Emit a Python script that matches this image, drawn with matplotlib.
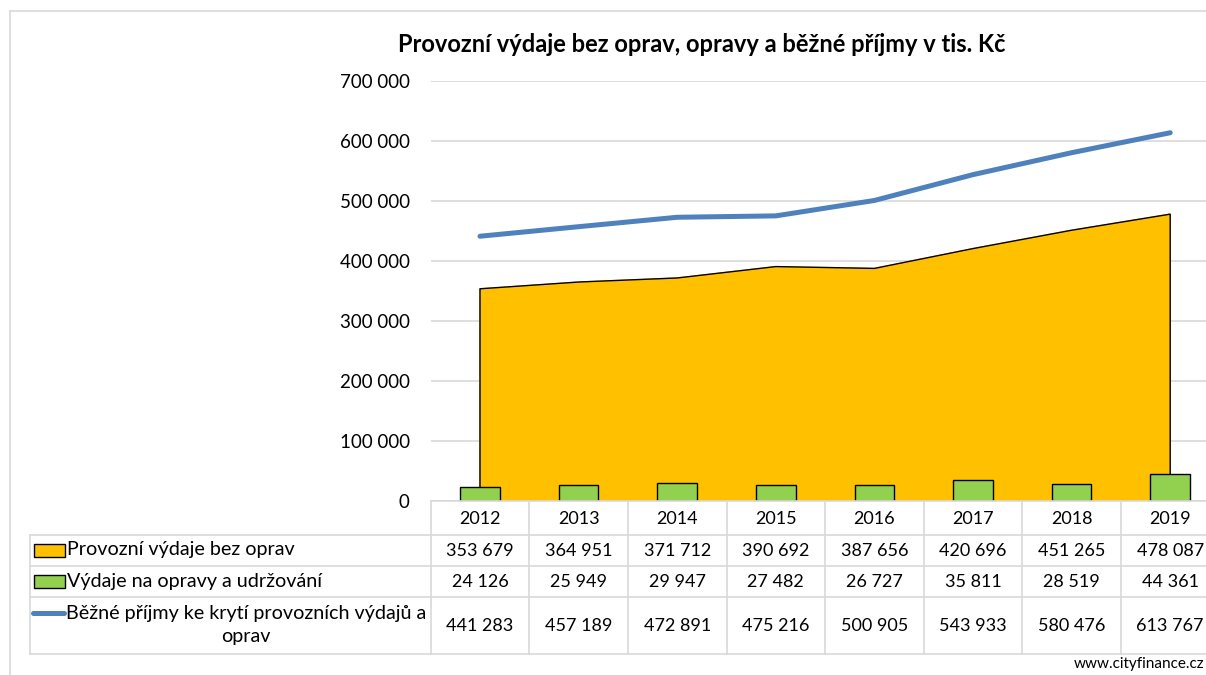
import matplotlib
matplotlib.use("Agg")
import matplotlib.pyplot as plt
from matplotlib.lines import Line2D
from matplotlib.patches import Rectangle

plt.rcParams['font.family'] = ['Lato', 'DejaVu Sans']

years = ['2012', '2013', '2014', '2015', '2016', '2017', '2018', '2019']
provozni = [353679, 364951, 371712, 390692, 387656, 420696, 451265, 478087]
opravy = [24126, 25949, 29947, 27482, 26727, 35811, 28519, 44361]
prijmy = [441283, 457189, 472891, 475216, 500905, 543933, 580476, 613767]
series_names = ['Provozní výdaje bez oprav',
                'Výdaje na opravy a udržování',
                'Běžné příjmy ke krytí provozních výdajů a\noprav']

ORANGE = '#ffc000'
GREEN = '#92d050'
BLUE = '#4f81bd'
GRID = '#d9d9d9'

W, H = 1206, 675
fig = plt.figure(figsize=(W / 100, H / 100), dpi=100)


def fx(px):
    return px / W


def fy(py):
    return 1 - py / H


# plot area in pixels
x0, x1 = 430.7, 1219.5
ytop, ybot = 81, 501
ax = fig.add_axes([fx(x0), fy(ybot), fx(x1 - x0), (ybot - ytop) / H])
n = len(years)
xs = list(range(n))
ax.set_xlim(-0.5, n - 0.5)
ax.set_ylim(0, 700000)
ax.set_yticks(range(0, 700001, 100000))
ax.set_yticklabels([f'{v:,}'.replace(',', ' ') for v in range(0, 700001, 100000)], fontsize=13.5)
ax.tick_params(axis='y', length=0, pad=15)
ax.set_xticks([])
for s in ax.spines.values():
    s.set_visible(False)
ax.grid(axis='y', color=GRID, linewidth=1.2)
ax.set_axisbelow(True)

# area
ax.fill([xs[0]] + xs + [xs[-1]], [0] + provozni + [0], color=ORANGE, zorder=2)
ax.plot([xs[0]] + xs + [xs[-1]], [0] + provozni + [0], color='black', linewidth=1.0, zorder=3)
# bars
ax.bar(xs, opravy, width=0.4, color=GREEN, edgecolor='black', linewidth=1.0, zorder=4)
# line
ax.plot(xs, prijmy, color=BLUE, linewidth=3.6, solid_capstyle='round', zorder=5)

fig.text(fx(702), fy(44), 'Provozní výdaje bez oprav, opravy a běžné příjmy v tis. Kč',
         ha='center', va='center', fontsize=17, fontweight='bold')

# data table
col_w = (x1 - x0) / n
col_edges = [x0 + i * col_w for i in range(n + 1)]
col_centers = [x0 + (i + 0.5) * col_w for i in range(n)]
row_y = [501, 535, 566, 597, 654]
lab_x = 30


def hline(y, xa, xb):
    fig.add_artist(Line2D([fx(xa), fx(xb)], [fy(y), fy(y)], color=GRID, linewidth=1.2))


def vline(x, ya, yb):
    fig.add_artist(Line2D([fx(x), fx(x)], [fy(ya), fy(yb)], color=GRID, linewidth=1.2))


hline(row_y[0], x0, W)
for y in row_y[1:]:
    hline(y, lab_x, W)
for x in col_edges:
    vline(x, row_y[0], row_y[-1])
vline(lab_x, row_y[1], row_y[-1])

for i, yr in enumerate(years):
    fig.text(fx(col_centers[i]), fy(519), yr, ha='center', va='center', fontsize=13)

values = [provozni, opravy, prijmy]
row_text_y = [551, 582, 626]
for r, vals in enumerate(values):
    for i, v in enumerate(vals):
        fig.text(fx(col_centers[i]), fy(row_text_y[r]), f'{v:,}'.replace(',', ' '),
                 ha='center', va='center', fontsize=13)

# legend keys in table
fig.add_artist(Rectangle((fx(34), fy(557)), fx(31), 13 / H, facecolor=ORANGE,
                         edgecolor='black', linewidth=1.0))
fig.add_artist(Rectangle((fx(34), fy(588)), fx(31), 13 / H, facecolor=GREEN,
                         edgecolor='black', linewidth=1.0))
fig.add_artist(Line2D([fx(33), fx(64)], [fy(613), fy(613)], color=BLUE, linewidth=3.6,
                      solid_capstyle='round'))
fig.text(fx(67), fy(550), series_names[0], ha='left', va='center', fontsize=14.2)
fig.text(fx(67), fy(581), series_names[1], ha='left', va='center', fontsize=14.2)
fig.text(fx(246), fy(625), series_names[2], ha='center', va='center', fontsize=14.2,
         multialignment='center', linespacing=1.45)

# chart border
fig.add_artist(Line2D([fx(10), fx(W)], [fy(11), fy(11)], color=GRID, linewidth=1.2))
fig.add_artist(Line2D([fx(10), fx(10)], [fy(11), fy(H)], color=GRID, linewidth=1.2))

fig.text(fx(1204), fy(664), 'www.cityfinance.cz', ha='right', va='center', fontsize=11)

fig.savefig('out.png', dpi=100)
